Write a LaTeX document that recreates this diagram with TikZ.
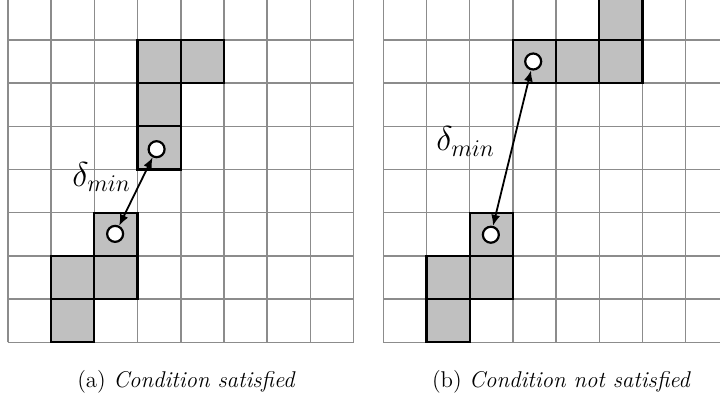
\documentclass[tikz,border=0pt]{standalone}
\usetikzlibrary{arrows.meta}
\definecolor{gridgray}{RGB}{140,140,140}
\definecolor{cellgray}{RGB}{192,192,192}
\tikzset{
  gridline/.style={draw=gridgray, line width=0.75pt},
  occ/.style={draw=black, fill=cellgray, line width=1.1pt},
  pt/.style={circle, draw=black, fill=white, line width=1.1pt, minimum size=8pt, inner sep=0pt},
  dist/.style={{Latex[length=5.5pt,width=4.5pt]}-{Latex[length=5.5pt,width=4.5pt]}, line width=0.9pt},
  dlabel/.style={inner sep=0pt, anchor=base west, font=\fontsize{17.28}{20}\selectfont},
  captext/.style={inner sep=0pt, anchor=base, font=\fontsize{11.4}{14}\selectfont}
}
\begin{document}
\begin{tikzpicture}[x=0.5pt, y=0.5pt]
\useasboundingbox (0,0) rectangle (720,402);
\clip (0,0) rectangle (720,402);
% left grid
\begin{scope}[shift={(8,59.7)}, x=21.6pt, y=21.6pt]
  \draw[gridline, step=1] (0,0) grid (8,8);
  \foreach \c/\r in {3/6,4/6,3/5,3/4,2/2,1/1,2/1,1/0}
    \draw[occ] (\c,\r) rectangle ++(1,1);
  \node[pt] (la) at (3.44,4.47) {};
  \node[pt] (lb) at (2.48,2.51) {};
  \draw[dist] (la) -- (lb);
\end{scope}
% right grid
\begin{scope}[shift={(383.3,59.7)}, x=21.6pt, y=21.6pt]
  \draw[gridline, step=1] (0,0) grid (8,8);
  \foreach \c/\r in {5/7,3/6,4/6,5/6,2/2,1/1,2/1,1/0}
    \draw[occ] (\c,\r) rectangle ++(1,1);
  \node[pt] (ra) at (3.47,6.5) {};
  \node[pt] (rb) at (2.49,2.49) {};
  \draw[dist] (ra) -- (rb);
\end{scope}
\node[dlabel] (ldelta) at (72,215.3) {$\delta_{min}$};
\node[dlabel] (rdelta) at (436,251) {$\delta_{min}$};
\node[captext] (capa) at (186.5,14) {(a) \textit{Condition satisfied}};
\node[captext] (capb) at (561.5,14) {(b) \textit{Condition not satisfied}};
\end{tikzpicture}
\end{document}
